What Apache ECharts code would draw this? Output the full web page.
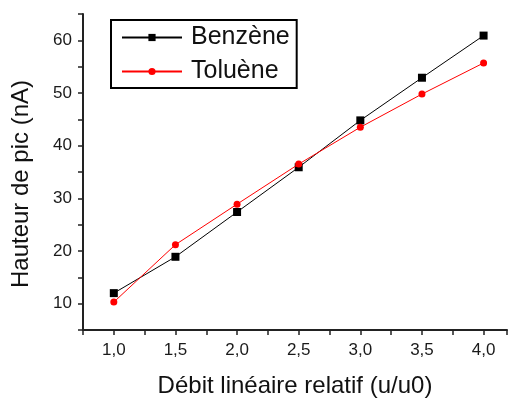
<!DOCTYPE html>
<html>
<head>
<meta charset="utf-8">
<script src="https://cdn.jsdelivr.net/npm/echarts@6/dist/echarts.min.js"></script>
<style>html,body{margin:0;padding:0;background:#fff;}#c{width:510px;height:403px;}</style>
</head>
<body>
<div id="c"></div>
<script>
var xValues = [1.0, 1.5, 2.0, 2.5, 3.0, 3.5, 4.0];
var benzene = [12.0, 18.9, 27.4, 35.9, 44.8, 52.9, 60.9];
var toluene = [10.3, 21.2, 28.9, 36.5, 43.5, 49.8, 55.7];
var seriesNames = ['Benzène', 'Toluène'];
var xTitle = 'Débit linéaire relatif (u/u0)';
var yTitle = 'Hauteur de pic (nA)';

function pairs(ys){ return xValues.map(function(x,i){ return [x, ys[i]]; }); }

var chart = echarts.init(document.getElementById('c'), null, {renderer:'canvas'});
var FONT = '"Liberation Sans", Arial, sans-serif';
chart.setOption({
  animation: false,
  backgroundColor: '#fff',
  grid: {left: 83, top: 14, right: 0, bottom: 70, containLabel: false},
  legend: {
    orient: 'vertical',
    left: 111, top: 20,
    padding: [5, 7, 4, 10],
    itemGap: 9,
    itemWidth: 60,
    itemHeight: 9,
    borderColor: '#000',
    borderWidth: 2,
    textStyle: {fontFamily: FONT, fontSize: 25, color: '#111', padding: [0,0,0,4]},
    data: seriesNames
  },
  xAxis: {
    type: 'value',
    min: 0.75, max: 4.19, interval: 0.25,
    name: xTitle, nameLocation: 'middle', nameGap: 44,
    nameTextStyle: {fontFamily: FONT, fontSize: 24, color: '#111'},
    axisLine: {show: true, lineStyle: {color: '#222', width: 2}},
    axisTick: {show: true, inside: false, length: 5, lineStyle: {color: '#222', width: 1.5}},
    splitLine: {show: false},
    axisLabel: {
      fontFamily: FONT, fontSize: 17, color: '#1a1a1a', margin: 12,
      formatter: function(v){
        var d = v * 2;
        if (Math.abs(d - Math.round(d)) > 1e-6 || v < 0.99) return '';
        return v.toFixed(1).replace('.', ',');
      }
    }
  },
  yAxis: {
    type: 'value',
    min: 5, max: 65, interval: 5,
    name: yTitle, nameLocation: 'middle', nameGap: 50,
    nameTextStyle: {fontFamily: FONT, fontSize: 24, color: '#111', padding: [0, 24, 0, 0]},
    axisLine: {show: true, lineStyle: {color: '#222', width: 2}},
    axisTick: {show: true, inside: false, length: 5, lineStyle: {color: '#222', width: 1.5}},
    splitLine: {show: false},
    axisLabel: {
      fontFamily: FONT, fontSize: 17, color: '#1a1a1a', margin: 11,
      formatter: function(v){ return (Math.round(v) % 10 === 0 && v < 64) ? String(v) : ''; }
    }
  },
  series: [
    {
      name: seriesNames[0], type: 'line', data: pairs(benzene),
      symbol: 'rect', symbolSize: 8,
      lineStyle: {color: '#000', width: 1},
      itemStyle: {color: '#000'},
      z: 2
    },
    {
      name: seriesNames[1], type: 'line', data: pairs(toluene),
      symbol: 'circle', symbolSize: 7,
      lineStyle: {color: '#ff0000', width: 1},
      itemStyle: {color: '#ff0000'},
      z: 3
    }
  ]
});
</script>
</body>
</html>
